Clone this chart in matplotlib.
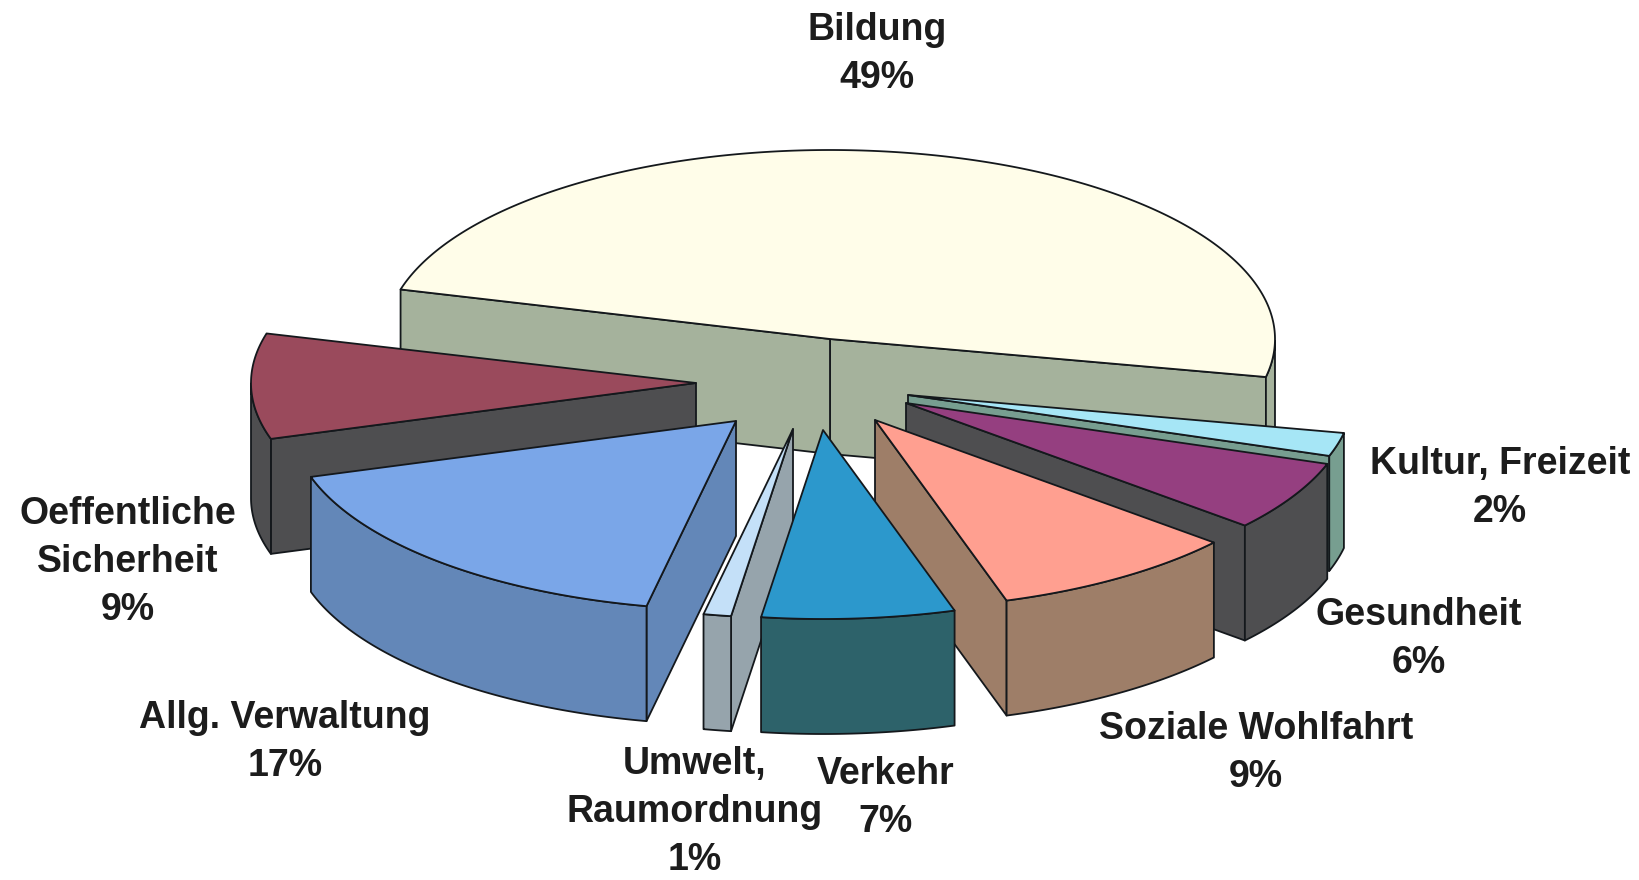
import numpy as np
import matplotlib
matplotlib.use("Agg")
import matplotlib.pyplot as plt
from matplotlib.patches import Polygon

# ---- data (percent of total), clockwise from the right edge of "Bildung"
labels = ["Kultur, Freizeit", "Gesundheit", "Soziale Wohlfahrt", "Verkehr",
          "Umwelt,\nRaumordnung", "Allg. Verwaltung", "Oeffentliche\nSicherheit", "Bildung"]
shares = [2, 6, 9, 7, 1, 17, 9, 49]

# ---- styles
top_colors = ["#A6E6F6", "#953F80", "#FF9F90", "#2C98CC", "#C4E0F8", "#7AA6E8", "#9A4A5C", "#FFFDE9"]
side_colors = ["#779E90", "#4E4E50", "#9E7E68", "#2D626A", "#96A4AC", "#6387B8", "#4E4E50", "#A5B29C"]
explode_x = [78, 76, 45, -7, -37, -94, -134, 0]
explode_y = [56, 64, 81, 91, 90, 82, 44, 0]
draw_order = [7, 6, 0, 1, 2, 4, 3, 5]
label_x = [1500, 1419, 1256, 886, 695, 285, 128, 877]
label_y = [446, 597, 711, 756, 746, 700, 496, 12]

CX, CY = 830, 339
A, B = 445, 189
DEPTH = 115
START_DEG = -11.6

plt.rcParams["font.family"] = ["Liberation Sans", "DejaVu Sans"]
fig = plt.figure(figsize=(16.4, 8.8), dpi=100, facecolor="white")
ax = fig.add_axes([0, 0, 1, 1])
ax.set_xlim(0, 1640)
ax.set_ylim(880, 0)
ax.axis("off")

# angular extents derived from the shares
sweeps = np.array(shares) * 3.6
ends = START_DEG - np.concatenate(([0], np.cumsum(sweeps)[:-1]))
starts = ends - sweeps


def rim(cx, cy, t0, t1, n=120):
    t = np.radians(np.linspace(t0, t1, n))
    return np.column_stack((cx + A * np.cos(t), cy - B * np.sin(t)))


def shape(points, color, z):
    ax.add_patch(Polygon(points, closed=True, facecolor=color, edgecolor="#14181c",
                         linewidth=1.3, joinstyle="round", zorder=z))


def face_visible(apex, p, inner):
    """A radial cut shows when the wedge's top lies above it on screen."""
    d = p - apex
    n = np.array([-d[1], d[0]])
    if n[1] > 0:
        n = -n
    return np.dot(inner - apex, n) > 0


z = 1
for i in draw_order:
    cx, cy = CX + explode_x[i], CY + explode_y[i]
    t0, t1 = starts[i], ends[i]
    apex = np.array([cx, cy], dtype=float)
    down = np.array([0, DEPTH])
    inner = rim(cx, cy, (t0 + t1) / 2, (t0 + t1) / 2, 1)[0]
    # radial cut faces
    for t in (t0, t1):
        p = rim(cx, cy, t, t, 1)[0]
        if face_visible(apex, p, inner):
            shape([apex, p, p + down, apex + down], side_colors[i], z)
            z += 1
    # front part of the outer rim (angles where sin < 0)
    grid = np.linspace(t0, t1, 240)
    front = grid[np.sin(np.radians(grid)) <= 0]
    if len(front) > 1:
        arc = rim(cx, cy, front[0], front[-1])
        shape(np.vstack((arc, (arc + down)[::-1])), side_colors[i], z)
        z += 1
    # top face
    shape(np.vstack((apex, rim(cx, cy, t0, t1, 240))), top_colors[i], z)
    z += 1

for i, name in enumerate(labels):
    ax.text(label_x[i], label_y[i], f"{name}\n{shares[i]}%", ha="center", va="top",
            fontsize=27, fontweight="bold", color="#1c1c1c", linespacing=1.43, zorder=100)

fig.savefig("out.png", dpi=100)
